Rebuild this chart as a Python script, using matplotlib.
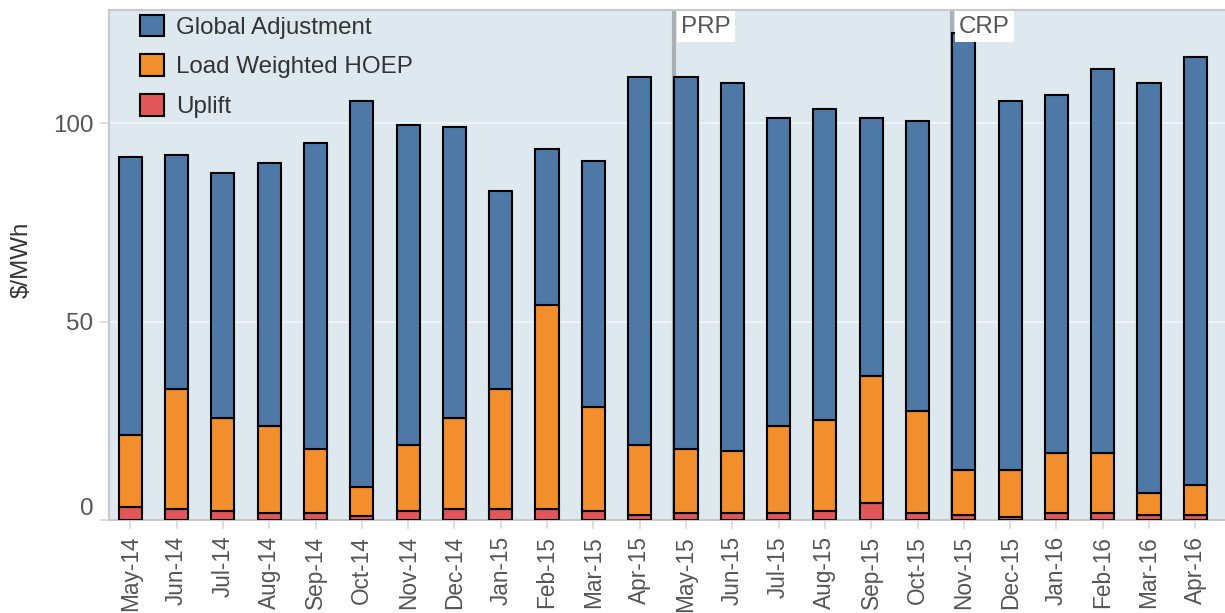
import numpy as np
import matplotlib.pyplot as plt
import matplotlib.transforms as mtransforms

months = ['May-14', 'Jun-14', 'Jul-14', 'Aug-14', 'Sep-14', 'Oct-14',
          'Nov-14', 'Dec-14', 'Jan-15', 'Feb-15', 'Mar-15', 'Apr-15',
          'May-15', 'Jun-15', 'Jul-15', 'Aug-15', 'Sep-15', 'Oct-15',
          'Nov-15', 'Dec-15', 'Jan-16', 'Feb-16', 'Mar-16', 'Apr-16']

uplift = [3.4, 2.7, 2.2, 1.7, 1.7, 0.9, 2.2, 2.7, 2.7, 2.7, 2.2, 1.2,
          1.7, 1.7, 1.7, 2.2, 4.2, 1.7, 1.3, 0.7, 1.7, 1.7, 1.2, 1.2]
hoep = [17.9, 30.2, 23.6, 22.1, 16.1, 7.3, 16.6, 23.1, 30.2, 51.4, 26.2, 17.6,
        16.1, 15.6, 22.1, 23.1, 32.2, 25.7, 11.4, 12.0, 15.1, 15.1, 5.5, 7.5]
global_adj = [70.1, 59.0, 61.6, 66.1, 77.1, 97.3, 80.7, 73.2, 49.9, 39.3, 62.0, 92.8,
              93.8, 92.8, 77.4, 78.2, 64.8, 73.1, 110.0, 92.8, 90.2, 96.8, 103.4, 107.9]

# program start markers (placed at left edge of the month bar)
markers = ['PRP', 'CRP']
marker_months = ['May-15', 'Nov-15']

plt.rcParams['font.family'] = ['Liberation Sans', 'DejaVu Sans']

BLUE = '#4e79a7'
ORANGE = '#f28e2b'
RED = '#e15759'
BG = '#dde9ef'
FS = 17.4

fig = plt.figure(figsize=(12.25, 6.13), dpi=100)
ax = fig.add_axes([109 / 1225, 1 - 520 / 613, 1116 / 1225, 510 / 613])
ax.set_facecolor(BG)

position = np.arange(len(months))
width = 0.5
up = np.array(uplift)
ho = np.array(hoep)
ga = np.array(global_adj)

b1 = ax.bar(position, up, width, color=RED, edgecolor='black', linewidth=1.5,
            label='Uplift', zorder=3)
b2 = ax.bar(position, ho, width, bottom=up, color=ORANGE, edgecolor='black',
            linewidth=1.5, label='Load Weighted HOEP', zorder=3)
b3 = ax.bar(position, ga, width, bottom=up + ho, color=BLUE, edgecolor='black',
            linewidth=1.5, label='Global Adjustment', zorder=3)

ax.set_xlim(-0.46, len(months) - 1 + 0.64)
ax.set_ylim(0, 128.5)

ax.set_yticks([0, 50, 100])
ax.set_xticks(position)
ax.set_xticklabels(months, rotation=90)
ax.tick_params(axis='both', labelcolor='#555555',
               color='#d9d9d9', length=6.5, width=1.2, pad=5)
ax.tick_params(axis='y', labelsize=FS)
ax.tick_params(axis='x', labelsize=16.3)
# the zero label sits above its tick, as in the source
ax.get_yticklabels()[0].set_verticalalignment('bottom')

ax.grid(axis='y', color='#eef3f5', linewidth=1.5, zorder=1)
ax.set_axisbelow(True)

for side in ['top', 'left', 'bottom']:
    ax.spines[side].set_color('#c8c8c8')
    ax.spines[side].set_linewidth(1.5)
ax.spines['right'].set_visible(False)

ax.set_ylabel('$/MWh', fontsize=FS, color='#333333')
ax.yaxis.set_label_coords(-76 / 1116, 0.51)

# vertical lines with labels
trans = mtransforms.blended_transform_factory(ax.transData, ax.transAxes)
for name, m in zip(markers, marker_months):
    xpos = months.index(m) - width / 2
    ax.axvline(xpos, color='#a9b1b6', linewidth=3, zorder=2)
    ax.annotate(name, xy=(xpos, 1.0), xycoords=trans,
                xytext=(5, -4), textcoords='offset points',
                ha='left', va='top', fontsize=FS, color='#555555', zorder=5,
                bbox=dict(facecolor='white', edgecolor='none', pad=3))

leg = ax.legend(handles=[b3, b2, b1], loc='upper left',
                bbox_to_anchor=(0.023, 1.0), frameon=False, fontsize=FS,
                handlelength=1.0, handleheight=1.0, handletextpad=0.5,
                labelspacing=0.64, borderpad=0.2, borderaxespad=0)
for t in leg.get_texts():
    t.set_color('#333333')

fig.savefig('out.png', dpi=100)
